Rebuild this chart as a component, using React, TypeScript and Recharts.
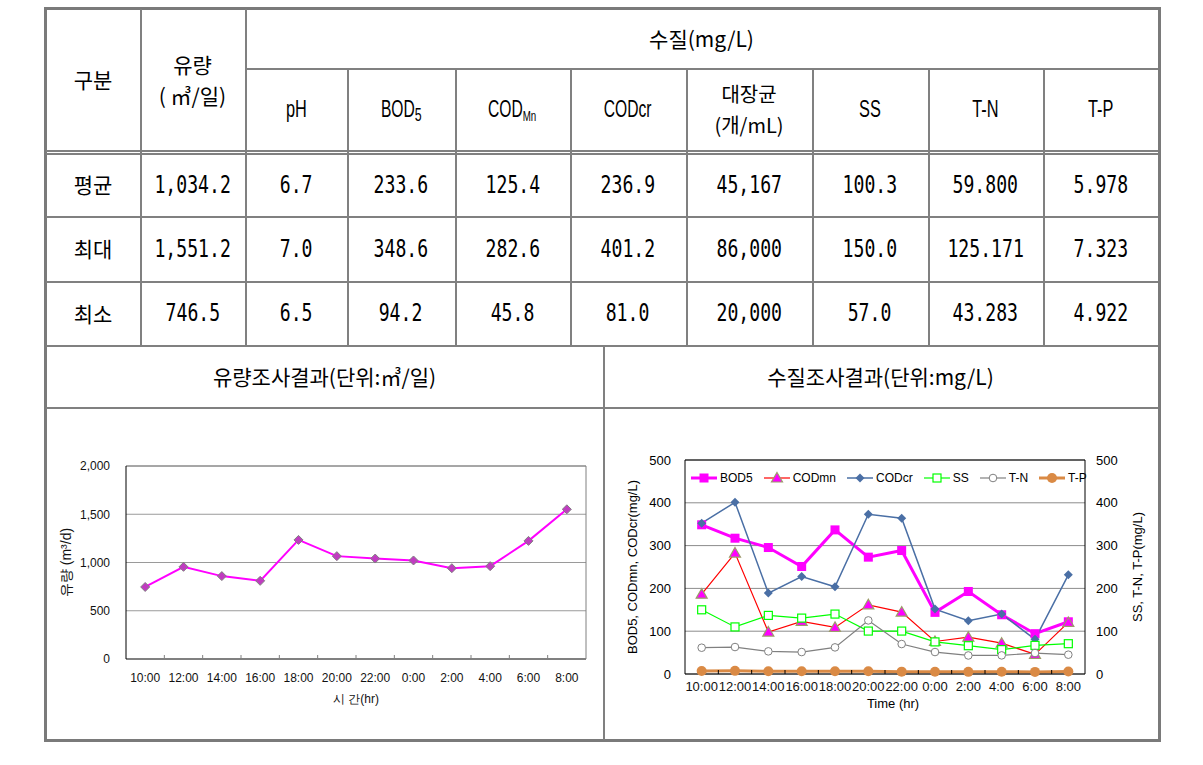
import React from 'react';
import { ComposedChart, Line, XAxis, YAxis, CartesianGrid, Legend, ReferenceLine } from 'recharts';

// 조사 시간대
const times = ['10:00', '12:00', '14:00', '16:00', '18:00', '20:00', '22:00', '0:00', '2:00', '4:00', '6:00', '8:00'];

// 유량 (m3/d)
const flow = [746.5, 955, 859, 810, 1234, 1066, 1041, 1021, 941, 962, 1224, 1551.2];

// 수질 (mg/L)
const bod5 = [348.6, 317.3, 295.5, 251.2, 336.7, 273, 288.5, 144, 192.8, 138.4, 94.2, 122];
const codMn = [186.6, 282.6, 98, 122.9, 108.9, 161.7, 144.6, 76, 86, 72, 45.8, 120.5];
const codCr = [352.3, 401.2, 189, 227.8, 203.7, 373.2, 363.9, 151.6, 124.4, 140, 81, 231.7];
const ss = [150, 110, 136.9, 130.6, 140, 100.3, 100.3, 75, 66.1, 57, 66.9, 70.8];
const tn = [61.4, 63, 52.9, 51.3, 62.2, 125.2, 70, 51.3, 43.3, 43.5, 49, 45.1];
const tp = [7.0, 7.32, 6.5, 6.3, 6.5, 6.5, 5.5, 5.2, 5.0, 5.3, 4.92, 5.8];

const flowTicks = [0, 500, 1000, 1500, 2000];
const qualityTicks = [0, 100, 200, 300, 400, 500];

// 표 내용
const statLabels = ['평균', '최대', '최소'];
const avgValues = ['1,034.2', '6.7', '233.6', '125.4', '236.9', '45,167', '100.3', '59.800', '5.978'];
const maxValues = ['1,551.2', '7.0', '348.6', '282.6', '401.2', '86,000', '150.0', '125.171', '7.323'];
const minValues = ['746.5', '6.5', '94.2', '45.8', '81.0', '20,000', '57.0', '43.283', '4.922'];
const statRows = [avgValues, maxValues, minValues];

const CHART_FONT = '"Liberation Sans", Arial, sans-serif';
const KFONT = '"Noto Sans CJK KR", sans-serif';
const LINE = '#808080';

// 좁은 글꼴 흉내
function Squeeze({ children, sx, style }: { children: React.ReactNode; sx: number; style?: React.CSSProperties }) {
  return (
    <span style={{ display: 'inline-block', transform: `scaleX(${sx})`, whiteSpace: 'nowrap', ...style }}>{children}</span>
  );
}

const HEAD_STYLE: React.CSSProperties = { fontFamily: CHART_FONT, fontSize: 24 };
const subStyle = (size: number): React.CSSProperties => ({ fontSize: size, position: 'relative', top: 4, verticalAlign: 'baseline' });

const qualityHeaders = [
  <Squeeze sx={0.68} style={HEAD_STYLE}>pH</Squeeze>,
  <Squeeze sx={0.65} style={HEAD_STYLE}>BOD<span style={subStyle(19)}>5</span></Squeeze>,
  <Squeeze sx={0.65} style={HEAD_STYLE}>COD<span style={subStyle(15)}>Mn</span></Squeeze>,
  <Squeeze sx={0.65} style={HEAD_STYLE}>CODcr</Squeeze>,
  <span style={{ fontFamily: KFONT, fontSize: 20, lineHeight: 1.5 }}>대장균<br />(개/mL)</span>,
  <Squeeze sx={0.68} style={HEAD_STYLE}>SS</Squeeze>,
  <Squeeze sx={0.68} style={HEAD_STYLE}>T-N</Squeeze>,
  <Squeeze sx={0.68} style={HEAD_STYLE}>T-P</Squeeze>,
];

const flowData = times.map((time, i) => ({ time, flow: flow[i] }));
const qualityData = times.map((time, i) => ({
  time, bod5: bod5[i], codMn: codMn[i], codCr: codCr[i], ss: ss[i], tn: tn[i], tp: tp[i],
}));

const COL = [46, 140, 245, 347, 455, 570, 686, 812, 928, 1043, 1158];
const ROW = [9, 68, 153, 216, 281, 345, 407, 740];
const SPLIT_X = 603;

const fmt = (v: number) => String(v).replace(/\B(?=(\d{3})+(?!\d))/g, ',');

type SeriesStyle = { key: string; name: string; color: string; width: number; right?: boolean; marker: (x: number, y: number) => React.ReactNode };

const qualitySeries: SeriesStyle[] = [
  { key: 'bod5', name: 'BOD5', color: '#FF00FF', width: 3,
    marker: (x, y) => <rect x={x - 4.5} y={y - 4.5} width={9} height={9} fill="#FF00FF" /> },
  { key: 'codMn', name: 'CODmn', color: '#FF0000', width: 1.2,
    marker: (x, y) => <polygon points={`${x},${y - 5.5} ${x + 5.5},${y + 4} ${x - 5.5},${y + 4}`} fill="#FF00FF" stroke="#9c9c6a" strokeWidth={1.2} /> },
  { key: 'codCr', name: 'CODcr', color: '#4A6FA5', width: 1.5,
    marker: (x, y) => <polygon points={`${x},${y - 4.5} ${x + 4.5},${y} ${x},${y + 4.5} ${x - 4.5},${y}`} fill="#4A6FA5" /> },
  { key: 'ss', name: 'SS', color: '#00FF00', width: 1.2, right: true,
    marker: (x, y) => <rect x={x - 4} y={y - 4} width={8} height={8} fill="#fff" stroke="#00FF00" strokeWidth={1.2} /> },
  { key: 'tn', name: 'T-N', color: '#808080', width: 1.2, right: true,
    marker: (x, y) => <circle cx={x} cy={y} r={3.8} fill="#fff" stroke="#808080" strokeWidth={1} /> },
  { key: 'tp', name: 'T-P', color: '#DA8A45', width: 3, right: true,
    marker: (x, y) => <circle cx={x} cy={y} r={5} fill="#DA8A45" /> },
];

function BoundaryTick(props: any) {
  const { x, y, payload, index, step, gap, fontSize, tickColor } = props;
  const axisY = y - gap;
  const bx = x - step / 2;
  return (
    <g>
      {index > 0 && <line x1={bx} x2={bx} y1={axisY} y2={axisY - 4} stroke={tickColor} />}
      <text x={x} y={y} dy="0.71em" textAnchor="middle" fontSize={fontSize} fontFamily={CHART_FONT} fill="#111">
        {payload.value}
      </text>
    </g>
  );
}

// 범례: 계열 순서 그대로
const renderQualityLegend = (props: any) => {
  const payload: any[] = props.payload || [];
  return (
    <div style={{ display: 'flex', alignItems: 'center', fontSize: 12, fontFamily: CHART_FONT, whiteSpace: 'nowrap', color: '#000' }}>
      {qualitySeries.map((s) => {
        const entry = payload.find((p) => p.dataKey === s.key);
        if (!entry) return null;
        return (
          <div key={s.key} style={{ display: 'flex', alignItems: 'center', marginRight: 11 }}>
            <svg width={26} height={14}>
              <line x1={0} x2={26} y1={7} y2={7} stroke={s.color} strokeWidth={s.width} />
              {s.marker(13, 7)}
            </svg>
            <span style={{ marginLeft: 3 }}>{entry.value}</span>
          </div>
        );
      })}
    </div>
  );
};

function FlowChart() {
  return (
    <ComposedChart width={550} height={290} data={flowData} margin={{ top: 36, right: 10, bottom: 17, left: 8 }}>
      <CartesianGrid vertical={false} stroke="#9a9a9a" />
      <ReferenceLine y={2000} stroke="#808080" />
      <XAxis
        dataKey="time" scale="band" interval={0} tickSize={0} tickMargin={14} tickLine={false} height={44}
        axisLine={{ stroke: '#808080', strokeWidth: 2 }}
        tick={<BoundaryTick step={460 / 12} gap={14} fontSize={12} tickColor="#808080" />}
        label={{ value: '시 간(hr)', position: 'insideBottom', offset: 0, fontSize: 12, fill: '#111', fontFamily: CHART_FONT }}
      />
      <YAxis
        domain={[0, 2000]} ticks={flowTicks} tickFormatter={fmt} width={70} tickSize={0} tickMargin={16} tickLine={false}
        axisLine={{ stroke: '#000' }} tick={{ fontSize: 12, fill: '#111', fontFamily: CHART_FONT }}
        label={{ value: '유량 (m³/d)', angle: -90, position: 'insideLeft', offset: 10, fill: '#111', style: { textAnchor: 'middle', fontSize: 14, fontFamily: CHART_FONT } }}
      />
      <YAxis yAxisId="frame" orientation="right" domain={[0, 2000]} ticks={flowTicks} tick={false} width={2} tickLine={false} axisLine={{ stroke: '#808080' }} />
      <Line
        dataKey="flow" stroke="#FF00FF" strokeWidth={2} isAnimationActive={false}
        dot={(p: any) => (
          <polygon key={`f-${p.index}`} points={`${p.cx},${p.cy - 4.5} ${p.cx + 4.5},${p.cy} ${p.cx},${p.cy + 4.5} ${p.cx - 4.5},${p.cy}`} fill="#C03CC0" stroke="#808080" strokeWidth={1} />
        )}
      />
    </ComposedChart>
  );
}

function QualityChart() {
  return (
    <ComposedChart width={545} height={290} data={qualityData} margin={{ top: 20, right: 9, bottom: 22, left: 5 }}>
      <CartesianGrid vertical={false} stroke="#8c8c8c" />
      <ReferenceLine y={500} stroke="#000" />
      <XAxis
        dataKey="time" scale="band" interval={0} tickSize={0} tickMargin={8} tickLine={false} height={34}
        axisLine={{ stroke: '#000' }}
        tick={<BoundaryTick step={400 / 12} gap={8} fontSize={13} tickColor="#000" />}
        label={{ value: 'Time (hr)', position: 'insideBottom', offset: 0, dx: 8, fontSize: 13, fill: '#000', fontFamily: CHART_FONT }}
      />
      <YAxis
        domain={[0, 500]} ticks={qualityTicks} width={70} tickSize={0} tickMargin={14} tickLine={false}
        axisLine={{ stroke: '#000' }} tick={{ fontSize: 13, fill: '#000', fontFamily: CHART_FONT }}
        label={{ value: 'BOD5, CODmn, CODcr(mg/L)', angle: -90, position: 'insideLeft', offset: 17, fontSize: 13, fill: '#000', fontFamily: CHART_FONT, style: { textAnchor: 'middle' } }}
      />
      <YAxis
        yAxisId="right" orientation="right" domain={[0, 500]} ticks={qualityTicks} width={61} tickSize={0} tickMargin={11} tickLine={false}
        axisLine={{ stroke: '#000' }} tick={{ fontSize: 13, fill: '#000', fontFamily: CHART_FONT }}
        label={{ value: 'SS, T-N, T-P(mg/L)', angle: -90, position: 'insideRight', offset: 9, fontSize: 13, fill: '#000', fontFamily: CHART_FONT, style: { textAnchor: 'middle' } }}
      />
      <Legend layout="horizontal" verticalAlign="middle" align="center" wrapperStyle={{ left: 81, top: 31, width: 'auto' }} content={renderQualityLegend} />
      {qualitySeries.map((s) => (
        <Line
          key={s.key} dataKey={s.key} name={s.name} yAxisId={s.right ? 'right' : 0}
          stroke={s.color} strokeWidth={s.width} isAnimationActive={false}
          dot={(p: any) => <g key={`${s.key}-${p.index}`}>{s.marker(p.cx, p.cy)}</g>}
        />
      ))}
    </ComposedChart>
  );
}

function HLine({ y, x1, x2 }: { y: number; x1: number; x2: number }) {
  return <div style={{ position: 'absolute', left: x1, top: y, width: x2 - x1, height: 1.5, background: LINE }} />;
}
function VLine({ x, y1, y2 }: { x: number; y1: number; y2: number }) {
  return <div style={{ position: 'absolute', left: x, top: y1, width: 1.5, height: y2 - y1, background: LINE }} />;
}
function Cell({ x1, x2, y1, y2, children, style }: any) {
  return (
    <div style={{
      position: 'absolute', left: x1, top: y1, width: x2 - x1, height: y2 - y1,
      display: 'flex', alignItems: 'center', justifyContent: 'center', textAlign: 'center',
      lineHeight: 1.45, fontFamily: KFONT, fontSize: 21, color: '#000', ...style,
    }}><div>{children}</div></div>
  );
}

const NUM_STYLE: React.CSSProperties = { fontFamily: '"DejaVu Sans Mono", monospace', fontSize: 24.5 };

export default function App() {
  return (
    <div style={{ position: 'absolute', left: 0, top: 0, width: 1203, height: 765, background: '#fff' }}>
      <div style={{ position: 'absolute', left: 44, top: 7, width: 1117, height: 735, border: '3px solid #7a7a7a', boxSizing: 'border-box' }} />

      {/* 표 선 */}
      <HLine y={68} x1={COL[2]} x2={COL[10]} />
      <HLine y={150} x1={COL[0]} x2={COL[10]} />
      <HLine y={153} x1={COL[0]} x2={COL[10]} />
      {[ROW[3], ROW[4], ROW[5], ROW[6]].map((y) => <HLine key={y} y={y} x1={COL[0]} x2={COL[10]} />)}
      <VLine x={COL[1]} y1={ROW[0]} y2={ROW[5]} />
      <VLine x={COL[2]} y1={ROW[0]} y2={ROW[5]} />
      {COL.slice(3, 10).map((x) => <VLine key={x} x={x} y1={ROW[1]} y2={ROW[5]} />)}
      <VLine x={SPLIT_X} y1={ROW[5]} y2={ROW[7]} />

      {/* 머리글 */}
      <Cell x1={COL[0]} x2={COL[1]} y1={ROW[0]} y2={150}>구분</Cell>
      <Cell x1={COL[1]} x2={COL[2]} y1={ROW[0]} y2={150}>유량<br />( ㎥/일)</Cell>
      <Cell x1={COL[2]} x2={COL[10]} y1={ROW[0]} y2={ROW[1]}>수질(mg/L)</Cell>
      {qualityHeaders.map((h, i) => (
        <Cell key={i} x1={COL[i + 2]} x2={COL[i + 3]} y1={ROW[1]} y2={150}>{h}</Cell>
      ))}

      {/* 통계 */}
      {statRows.map((vals, r) => (
        <React.Fragment key={r}>
          <Cell x1={COL[0]} x2={COL[1]} y1={ROW[2 + r]} y2={ROW[3 + r]}>{statLabels[r]}</Cell>
          {vals.map((v, j) => (
            <Cell key={j} x1={COL[j + 1]} x2={COL[j + 2]} y1={ROW[2 + r]} y2={ROW[3 + r]}>
              <Squeeze sx={0.74} style={NUM_STYLE}>{v}</Squeeze>
            </Cell>
          ))}
        </React.Fragment>
      ))}

      <Cell x1={COL[0]} x2={SPLIT_X} y1={ROW[5]} y2={ROW[6]}>유량조사결과(단위:㎥/일)</Cell>
      <Cell x1={SPLIT_X} x2={COL[10]} y1={ROW[5]} y2={ROW[6]}>수질조사결과(단위:mg/L)</Cell>

      <div style={{ position: 'absolute', left: 48, top: 430 }}>
        <FlowChart />
      </div>
      <div style={{ position: 'absolute', left: 610, top: 440 }}>
        <QualityChart />
      </div>
    </div>
  );
}
